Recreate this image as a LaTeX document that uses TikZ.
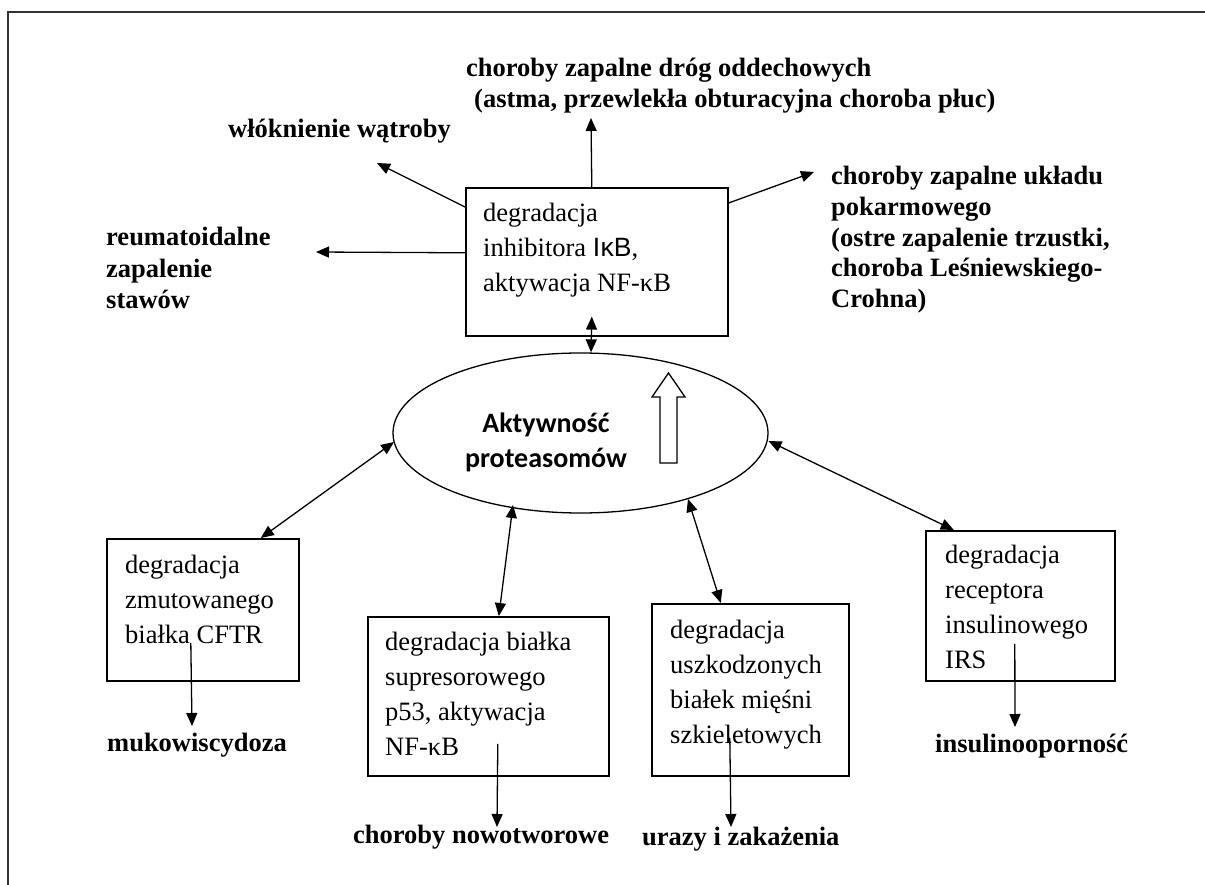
\documentclass[tikz,border=0pt]{standalone}
\usepackage{fontspec}
\setmainfont{Liberation Serif}
\setsansfont{Liberation Sans}
\newfontfamily\carlitofont{Carlito}
\usetikzlibrary{arrows.meta,calc,shapes.geometric}
\newcommand{\lblfnt}[1]{\bfseries\fontsize{26.5}{#1}\selectfont}
\newcommand{\txtfnt}{\fontsize{26.5}{35}\selectfont}
\begin{document}
\begin{tikzpicture}[x=1pt,y=-1pt,
  box/.style={draw, line width=1.6pt, rectangle, inner sep=0pt},
  tip/.style={Triangle[length=13pt,width=11pt]},
  arr/.style={-{Triangle[length=13pt,width=11pt]}, line width=1.3pt},
  darr/.style={{Triangle[length=13pt,width=11pt]}-{Triangle[length=13pt,width=11pt]}, line width=1.3pt},
  lbl/.style={inner sep=0pt, align=left},
  txt/.style={font=\txtfnt, inner sep=0pt, align=left, anchor=north west},
]
\useasboundingbox (0,0) rectangle (1205,885);
% frame (top and left edge)
\draw[line width=1.3pt, black!80] (8,885) -- (8,12) -- (1205,12);

% boxes
\node[box, minimum width=262pt, minimum height=148pt, anchor=north west] (box1) at (465,187) {};
\node[box, minimum width=192pt, minimum height=142pt, anchor=north west] (cftr) at (106,538) {};
\node[box, minimum width=241pt, minimum height=159pt, anchor=north west] (p53) at (367,616) {};
\node[box, minimum width=197pt, minimum height=172pt, anchor=north west] (uraz) at (651,603) {};
\node[box, minimum width=189pt, minimum height=150pt, anchor=north west] (rec) at (925,530) {};

% ellipse
\node[draw, ellipse, line width=1.3pt, minimum width=375pt, minimum height=160pt, inner sep=0pt] (ell) at (580.5,433) {};
\node[inner sep=0pt, align=center, anchor=north, font={\carlitofont\bfseries\fontsize{28}{35}\selectfont}] (akt) at (546,413) {Aktywność\\proteasomów};
\draw[line width=1.3pt] (660,463) -- (660,397) -- (652,397) -- (668.5,373) -- (685,397) -- (677,397) -- (677,463) -- cycle;

% box texts
\node[txt] (t1) at (483,203) {degradacja\\inhibitora {\sffamily I\kern0.5ptκB},\\aktywacja NF-κB};
\node[txt] (t2) at (125,555) {degradacja\\zmutowanego\\białka CFTR};
\node[txt] (t3) at (385,632) {degradacja białka\\supresorowego\\p53, aktywacja\\NF-κB};
\node[txt] (t4) at (670,620) {degradacja\\uszkodzonych\\białek mięśni\\szkieletowych};
\node[txt] (t5) at (945,545) {degradacja\\receptora\\insulinowego\\IRS};

% labels
\node[lbl, anchor=base west, font=\lblfnt{31}] (wl) at (228,138) {włóknienie wątroby};
\node[lbl, anchor=north west, font=\lblfnt{31}] (odd) at (466,58) {choroby zapalne dróg oddechowych\\\hspace*{8pt}(astma, przewlekła obturacyjna choroba płuc)};
\node[lbl, anchor=north west, font=\lblfnt{31.5}] (reu) at (106,227) {reumatoidalne\\zapalenie\\stawów};
\node[lbl, anchor=north west, font=\lblfnt{30.8}] (pok) at (831,166) {choroby zapalne układu\\pokarmowego\\(ostre zapalenie trzustki,\\choroba Leśniewskiego-\\Crohna)};
\node[lbl, anchor=base west, font=\lblfnt{31}] (muk) at (107,751) {mukowiscydoza};
\node[lbl, anchor=base west, font=\lblfnt{31}] (now) at (353,843) {choroby nowotworowe};
\node[lbl, anchor=base west, font=\lblfnt{31}] (zak) at (642,845) {urazy i zakażenia};
\node[lbl, anchor=base west, font=\lblfnt{31}] (ins) at (935,752) {insulinooporność};

% free ends
\coordinate (eWl) at (377,163);
\coordinate (eReu) at (316,252);
\coordinate (eOdd) at (591,118);
\coordinate (ePok) at (814,172);
\coordinate (eMuk) at (192,726);
\coordinate (eNow) at (497,827);
\coordinate (eZak) at (731,827);
\coordinate (eIns) at (1015,727);

% arrows from top box
\draw[arr] ($(box1.north west)+(0,20)$) -- (eWl);
\draw[arr] ($(box1.west)+(0,-9)$) -- (eReu);
\draw[arr] ($(box1.north)+(-5,0)$) -- (eOdd);
\draw[arr] ($(box1.north east)+(0,16)$) -- (ePok);
\draw[darr] ($(box1.south)+(-5,-20)$) -- ($(ell.north)+(10.5,0)$);

% double arrows ellipse <-> boxes
\draw[darr] ($(ell.center)+(-186.5,9)$) -- ($(cftr.north)+(58,0)$);
\draw[darr] ($(ell.center)+(-67.5,72)$) -- ($(p53.north)+(10.5,0)$);
\draw[darr] ($(ell.center)+(107.5,66)$) -- ($(uraz.north)+(-29.5,0)$);
\draw[darr] ($(ell.center)+(188,8)$) -- ($(rec.north)+(-66.5,0)$);

% arrows from lower boxes
\draw[arr] ($(cftr.center)+(-12,33)$) -- (eMuk);
\draw[arr] ($(p53.center)+(9.5,47.5)$) -- (eNow);
\draw[arr] ($(uraz.center)+(-20.5,48)$) -- (eZak);
\draw[arr] ($(rec.center)+(-5.5,38)$) -- (eIns);
\end{tikzpicture}
\end{document}
